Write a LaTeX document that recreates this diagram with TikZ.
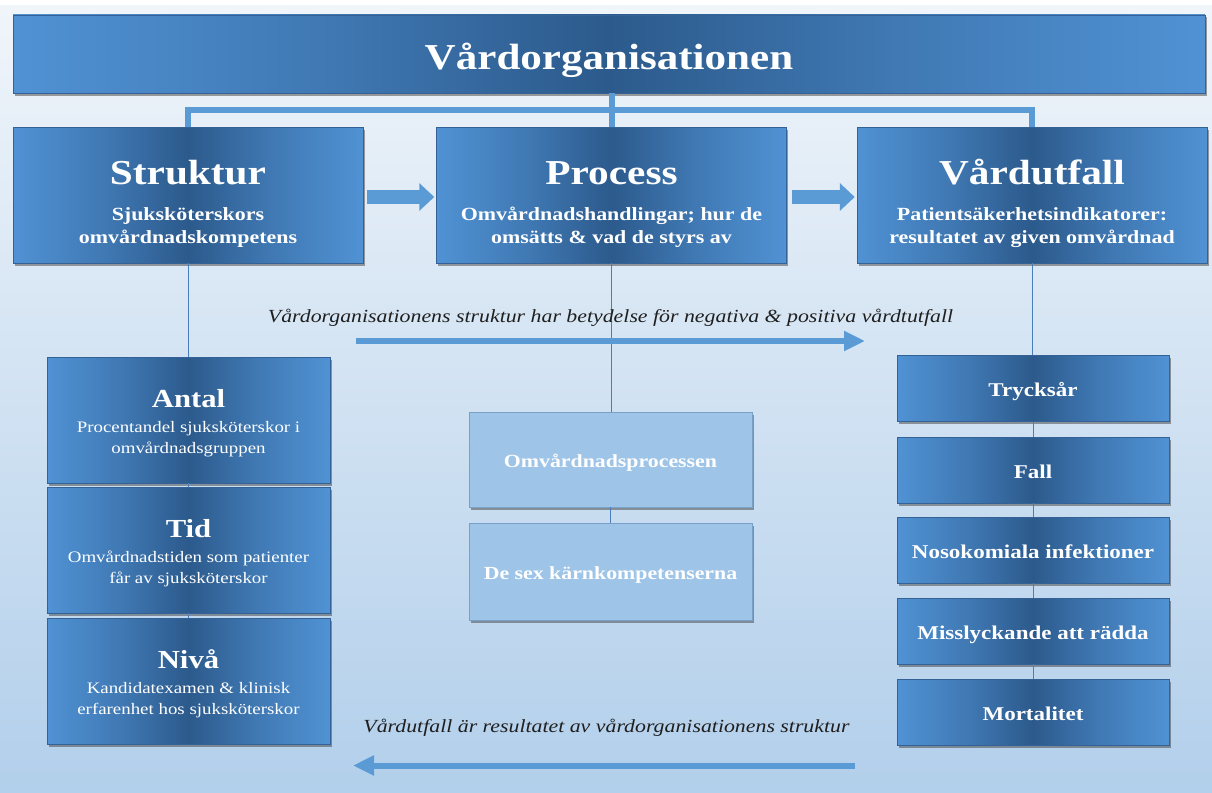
\documentclass[tikz,border=0pt]{standalone}
\usepackage{fontspec}
\setmainfont{Liberation Serif}[FakeStretch=1.18]
\usepackage{tikz}
\usetikzlibrary{arrows.meta,calc,positioning,shadows}
\definecolor{boxlight}{RGB}{80,146,212}
\definecolor{boxdark}{RGB}{44,90,140}
\definecolor{boxedge}{RGB}{52,98,150}
\definecolor{linkblue}{RGB}{91,155,213}
\definecolor{thinblue}{RGB}{74,126,186}
\definecolor{paleblue}{RGB}{158,196,231}
\definecolor{paleedge}{RGB}{120,160,200}
\definecolor{bgtop}{RGB}{240,245,250}
\definecolor{bgbot}{RGB}{178,207,235}
\pgfdeclarehorizontalshading{boxshade}{100bp}{color(0bp)=(boxlight); color(25bp)=(boxlight); color(38bp)=(boxlight!55!boxdark); color(50bp)=(boxdark); color(62bp)=(boxlight!55!boxdark); color(75bp)=(boxlight); color(100bp)=(boxlight)}
\tikzset{
  shadedbox/.style={shading=boxshade,draw=boxedge,line width=0.5pt,inner sep=0pt,
    drop shadow={shadow xshift=1.5pt,shadow yshift=-2.5pt,opacity=0.5,fill=black!75}},
  palebox/.style={fill=paleblue,draw=paleedge,line width=0.5pt,inner sep=0pt,
    drop shadow={shadow xshift=1.5pt,shadow yshift=-2.5pt,opacity=0.5,fill=black!75},
    minimum width=283pt,text=white,font=\bfseries\fontsize{18.5}{20}\selectfont,
    text height=17pt,text depth=1pt},
  tophead/.style={anchor=base,inner sep=0pt,text=white,font=\bfseries\fontsize{35}{38}\selectfont},
  topsub/.style={anchor=base,inner sep=0pt,text=white,font=\bfseries\fontsize{18.6}{23}\selectfont},
  lefthead/.style={anchor=base,inner sep=0pt,text=white,font=\bfseries\fontsize{26}{28}\selectfont},
  leftsub/.style={anchor=base,inner sep=0pt,text=white,font=\fontsize{16}{21}\selectfont},
  captiontxt/.style={anchor=base,inner sep=0pt,text=black!88,font=\itshape\fontsize{18.5}{20}\selectfont},
  barline/.style={linkblue,line width=6pt},
  thinlink/.style={thinblue,line width=0.8pt},
  longarrow/.style={linkblue,line width=6pt,-{Triangle[length=21pt,width=19pt]}},
  blockarrow/.style={linkblue,line width=14pt,-{Triangle[length=15pt,width=27pt]}}
}
\begin{document}
\begin{tikzpicture}[x=1pt,y=-1pt]
  \useasboundingbox (0,0) rectangle (1212,792);
  \fill[white] (0,0) rectangle (1212,792);
  \shade[top color=bgtop,bottom color=bgbot] (0,6) rectangle (1212,792);
  % title
  \node[shadedbox,minimum width=1192pt,minimum height=78pt,text=white,
    font=\bfseries\fontsize{36.5}{40}\selectfont,text height=36pt,text depth=4pt] (title) at (609,54) {Vårdorganisationen};
  % top row
  \foreach \n/\x/\head/\subA/\subB in {struktur/188/Struktur/Sjuksköterskors/omvårdnadskompetens,
      process/611.5/Process/{Omvårdnadshandlingar; hur de}/{omsätts \& vad de styrs av},
      vardutfall/1032/Vårdutfall/{Patientsäkerhetsindikatorer:}/{resultatet av given omvårdnad}} {
    \node[shadedbox,minimum width=350pt,minimum height=136pt] (\n) at (\x,195) {};
    \node[tophead] (\n-head) at ($(\n.center)+(0,-11)$) {\head};
    \node[topsub] (\n-sub) at ($(\n-head.base)+(0,36)$) {\begin{tabular}[t]{@{}c@{}}\subA\\\subB\end{tabular}};
  }
  % left column
  \foreach \n/\y/\head/\subA/\subB in {antal/420/Antal/{Procentandel sjuksköterskor i}/omvårdnadsgruppen,
      tid/550/Tid/{Omvårdnadstiden som patienter}/{får av sjuksköterskor},
      niva/681/Nivå/{Kandidatexamen \& klinisk}/{erfarenhet hos sjuksköterskor}} {
    \node[shadedbox,minimum width=283pt,minimum height=126pt] (\n) at (188.5,\y) {};
    \node[lefthead] (\n-head) at ($(\n.center)+(0,-13)$) {\head};
    \node[leftsub] (\n-sub) at ($(\n-head.base)+(0,25)$) {\begin{tabular}[t]{@{}c@{}}\subA\\\subB\end{tabular}};
  }
  % middle column
  \node[palebox,minimum height=95pt] (omv) at (610.5,459.5) {Omvårdnadsprocessen};
  \node[palebox,minimum height=97pt] (desex) at (610.5,571.5) {De sex kärnkompetenserna};
  % right column
  \foreach \n/\y/\txt in {tryck/388.5/Trycksår,fall/470/Fall,noso/550/Nosokomiala infektioner,
      miss/631/Misslyckande att rädda,mort/712/Mortalitet}
    \node[shadedbox,minimum width=272pt,minimum height=66pt,text=white,
      font=\bfseries\fontsize{19.5}{21}\selectfont,text height=17pt,text depth=1pt] (\n) at (1033,\y) {\txt};
  % connectors
  \coordinate (bar) at (611.5,110);
  \draw[barline] (title.south -| process.north) -- (process.north);
  \draw[barline] (struktur.north) |- (bar) -| (vardutfall.north);
  \foreach \a/\b in {struktur/antal,antal/tid,tid/niva,process/omv,omv/desex,
      vardutfall/tryck,tryck/fall,fall/noso,noso/miss,miss/mort}
    \draw[thinlink] (\a.south) -- (\a.south |- \b.north);
  \draw[blockarrow] ([xshift=4pt,yshift=-2pt]struktur.east) -- ([xshift=-2pt,yshift=-2pt]process.west);
  \draw[blockarrow] ([xshift=5pt,yshift=-2pt]process.east) -- ([xshift=-2pt,yshift=-2pt]vardutfall.west);
  % captions
  \node[captiontxt] (fwd-txt) at (610.5,322) {Vårdorganisationens struktur har betydelse för negativa \& positiva vårdtutfall};
  \coordinate (fwd-a) at (356,341);
  \coordinate (fwd-b) at (865,341);
  \draw[longarrow] (fwd-a) -- (fwd-b);
  \node[captiontxt] (back-txt) at (606.5,732) {Vårdutfall är resultatet av vårdorganisationens struktur};
  \coordinate (back-a) at (855,765.5);
  \coordinate (back-b) at (353,765.5);
  \draw[longarrow] (back-a) -- (back-b);
\end{tikzpicture}
\end{document}
